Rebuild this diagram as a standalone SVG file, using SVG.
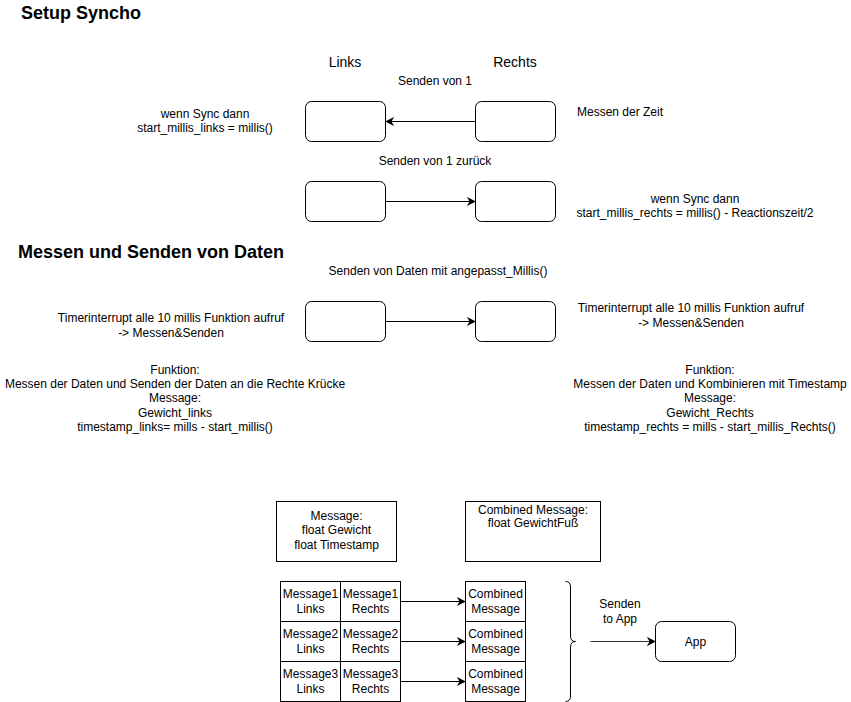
<svg xmlns="http://www.w3.org/2000/svg" width="851" height="702" viewBox="0 0 851 702">
<defs>
<style>
text{font-family:"Liberation Sans",Arial,sans-serif;font-size:12px;fill:#000}
.c{text-anchor:middle}
.h{font-weight:bold;font-size:18px}
.l{font-size:14px}
.n{fill:#fff;stroke:#000;stroke-width:1}
.e{stroke:#000;stroke-width:1;fill:none}
</style>
<marker id="a" viewBox="0 0 10 10" refX="9" refY="5" markerWidth="9" markerHeight="9" markerUnits="userSpaceOnUse" orient="auto">
<path d="M0,0 L10,5 L0,10 L3,5 Z" fill="#000"/>
</marker>
</defs>
<rect width="851" height="702" fill="#fff"/>
<text x="21" y="19" class="h">Setup Syncho</text>
<text x="345" y="67" class="c l">Links</text>
<text x="515" y="67" class="c l">Rechts</text>
<text x="435" y="85" class="c">Senden von 1</text>
<text x="435" y="165" class="c">Senden von 1 zurück</text>
<text x="205" y="118" class="c">wenn Sync dann</text>
<text x="205" y="132" class="c">start_millis_links = millis()</text>
<text x="577" y="116">Messen der Zeit</text>
<text x="695" y="203" class="c">wenn Sync dann</text>
<text x="695" y="217" class="c">start_millis_rechts = millis() - Reactionszeit/2</text>
<text x="18" y="258" class="h">Messen und Senden von Daten</text>
<text x="438" y="275" class="c">Senden von Daten mit angepasst_Millis()</text>
<text x="171" y="322" class="c">Timerinterrupt alle 10 millis Funktion aufruf</text>
<text x="171" y="337" class="c">-&gt; Messen&amp;Senden</text>
<text x="691" y="312" class="c">Timerinterrupt alle 10 millis Funktion aufruf</text>
<text x="691" y="327" class="c">-&gt; Messen&amp;Senden</text>
<g class="c">
<text x="175" y="374">Funktion:</text>
<text x="175" y="388">Messen der Daten und Senden der Daten an die Rechte Krücke</text>
<text x="175" y="402">Message:</text>
<text x="175" y="417">Gewicht_links</text>
<text x="175" y="431">timestamp_links= mills - start_millis()</text>
<text x="710" y="374">Funktion:</text>
<text x="710" y="388">Messen der Daten und Kombinieren mit Timestamp</text>
<text x="710" y="402">Message:</text>
<text x="710" y="417">Gewicht_Rechts</text>
<text x="710" y="431">timestamp_rechts = mills - start_millis_Rechts()</text>
</g>
<g id="nodes">
<g id="l1"><rect class="n" x="305.5" y="101.5" width="80" height="40" rx="6"/></g>
<g id="r1"><rect class="n" x="475.5" y="101.5" width="80" height="40" rx="6"/></g>
<g id="l2"><rect class="n" x="305.5" y="181.5" width="80" height="40" rx="6"/></g>
<g id="r2"><rect class="n" x="475.5" y="181.5" width="80" height="40" rx="6"/></g>
<g id="l3"><rect class="n" x="305.5" y="301.5" width="80" height="40" rx="6"/></g>
<g id="r3"><rect class="n" x="475.5" y="301.5" width="80" height="40" rx="6"/></g>
<g id="msg"><rect class="n" x="276.5" y="501.5" width="120" height="60"/>
<text x="336.5" y="520" class="c">Message:</text>
<text x="336.5" y="534" class="c">float Gewicht</text>
<text x="336.5" y="549" class="c">float Timestamp</text></g>
<g id="cmsg"><rect class="n" x="465.5" y="501.5" width="135" height="60"/>
<text x="533" y="514" class="c">Combined Message:</text>
<text x="533" y="527" class="c">float GewichtFuß</text></g>
<g id="m1l"><rect class="n" x="280.5" y="581.5" width="60" height="40"/><text x="310.5" y="598" class="c">Message1</text><text x="310.5" y="613" class="c">Links</text></g>
<g id="m1r"><rect class="n" x="340.5" y="581.5" width="60" height="40"/><text x="370.5" y="598" class="c">Message1</text><text x="370.5" y="613" class="c">Rechts</text></g>
<g id="m2l"><rect class="n" x="280.5" y="621.5" width="60" height="40"/><text x="310.5" y="638" class="c">Message2</text><text x="310.5" y="653" class="c">Links</text></g>
<g id="m2r"><rect class="n" x="340.5" y="621.5" width="60" height="40"/><text x="370.5" y="638" class="c">Message2</text><text x="370.5" y="653" class="c">Rechts</text></g>
<g id="m3l"><rect class="n" x="280.5" y="661.5" width="60" height="40"/><text x="310.5" y="678" class="c">Message3</text><text x="310.5" y="693" class="c">Links</text></g>
<g id="m3r"><rect class="n" x="340.5" y="661.5" width="60" height="40"/><text x="370.5" y="678" class="c">Message3</text><text x="370.5" y="693" class="c">Rechts</text></g>
<g id="c1"><rect class="n" x="465.5" y="581.5" width="60" height="40"/><text x="495.5" y="598" class="c">Combined</text><text x="495.5" y="613" class="c">Message</text></g>
<g id="c2"><rect class="n" x="465.5" y="621.5" width="60" height="40"/><text x="495.5" y="638" class="c">Combined</text><text x="495.5" y="653" class="c">Message</text></g>
<g id="c3"><rect class="n" x="465.5" y="661.5" width="60" height="40"/><text x="495.5" y="678" class="c">Combined</text><text x="495.5" y="693" class="c">Message</text></g>
<g id="brace"><path class="e" d="M565.5,581.5 Q570.5,581.5 570.5,587 L570.5,636 Q570.5,641.5 575.5,641.5 Q570.5,641.5 570.5,647 L570.5,696 Q570.5,701.5 565.5,701.5"/></g>
<g id="app"><rect class="n" x="655.5" y="621.5" width="80" height="40" rx="6"/><text x="695.5" y="645.5" class="c">App</text></g>
<text x="620" y="608" class="c">Senden</text>
<text x="620" y="623" class="c">to App</text>
</g>
<g id="edges">
<line class="e" x1="475.5" y1="121.5" x2="386" y2="121.5" marker-end="url(#a)"/>
<line class="e" x1="385.5" y1="201.5" x2="475" y2="201.5" marker-end="url(#a)"/>
<line class="e" x1="385.5" y1="321.5" x2="475" y2="321.5" marker-end="url(#a)"/>
<line class="e" x1="400.5" y1="601.5" x2="465" y2="601.5" marker-end="url(#a)"/>
<line class="e" x1="400.5" y1="641.5" x2="465" y2="641.5" marker-end="url(#a)"/>
<line class="e" x1="400.5" y1="681.5" x2="465" y2="681.5" marker-end="url(#a)"/>
<line class="e" x1="590.5" y1="641.5" x2="655" y2="641.5" style="stroke:#333" marker-end="url(#a)"/>
</g>
</svg>
